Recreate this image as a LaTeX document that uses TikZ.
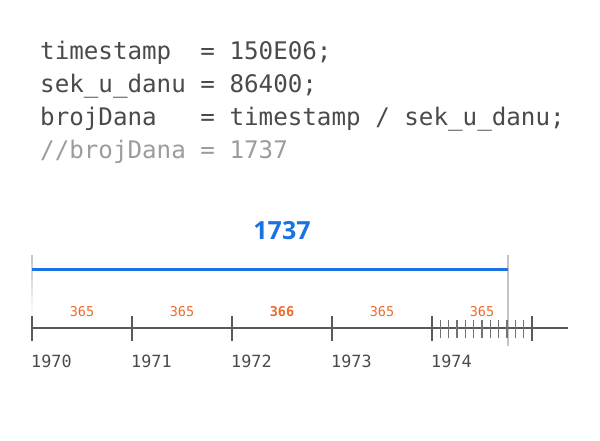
\documentclass[tikz,border=0pt]{standalone}
\usepackage{fontspec}
\setmonofont{DejaVu Sans Mono}
\newfontfamily\boldsans{Open Sans}
\definecolor{codecol}{HTML}{4A4A4A}
\definecolor{commentcol}{HTML}{9C9C9C}
\definecolor{bluecol}{HTML}{1A73E0}
\definecolor{orangecol}{HTML}{EC6A2C}
\definecolor{axiscol}{HTML}{5A5A5A}
\definecolor{guidecol}{HTML}{C4C4C4}
\tikzset{
  codeline/.style={anchor=base west, inner sep=0pt, font=\ttfamily\fontsize{24.2}{28}\selectfont, text=codecol},
  commentline/.style={codeline, text=commentcol},
  totallabel/.style={anchor=base, inner sep=0pt, font=\boldsans\bfseries\fontsize{25}{28}\selectfont, text=bluecol},
  daylabel/.style={anchor=base, inner sep=0pt, font=\ttfamily\fontsize{13.5}{15}\selectfont, text=orangecol},
  leapday/.style={daylabel, font=\ttfamily\bfseries\fontsize{13.5}{15}\selectfont},
  yearlabel/.style={anchor=base west, inner sep=0pt, font=\ttfamily\fontsize{16.8}{18}\selectfont, text=codecol},
  axisline/.style={draw=axiscol, line width=2pt},
  majortick/.style={draw=axiscol, line width=2.5pt},
  minortick/.style={draw=axiscol!85, line width=1.5pt},
  bluespan/.style={draw=bluecol, line width=3pt},
  guideline/.style={draw=guidecol, line width=1.5pt}
}
\begin{document}
\begin{tikzpicture}[x=1pt,y=-1pt]
\useasboundingbox (0,0) rectangle (600,440);
% code
\node[codeline] (l1) at (40,59) {timestamp\ \ = 150E06;};
\node[codeline] (l2) at (40,92) {sek\_u\_danu = 86400;};
\node[codeline] (l3) at (40,125) {brojDana\ \ \ = timestamp / sek\_u\_danu;};
\node[commentline] (l4) at (40,158) {//brojDana = 1737};
% total
\node[totallabel] (total) at (282,239) {1737};
% guides
\shade[top color=guidecol, bottom color=white] (31.2,255) rectangle (32.8,316);
\coordinate (gtop) at (508,255);
\coordinate (gbot) at (508,346);
\draw[guideline] (gtop) -- (gbot);
% blue span
\coordinate (bL) at (32,269);
\coordinate (bR) at (508,269);
\draw[bluespan] (bL) -- (bR);
% axis
\coordinate (axL) at (32,328);
\coordinate (axR) at (568,328);
\draw[axisline] (axL) -- (axR);
\foreach \k in {1,...,11}{
  \draw[minortick] ({432+\k*100/12},320) -- ({432+\k*100/12},338);
}
\foreach \x in {32,132,232,332,432,532}{
  \draw[majortick] (\x,316) -- (\x,341);
}
% day counts
\node[daylabel] (d1) at (82,316) {365};
\node[daylabel] (d2) at (182,316) {365};
\node[leapday] (d3) at (282,316) {366};
\node[daylabel] (d4) at (382,316) {365};
\node[daylabel] (d5) at (482,316) {365};
% years
\node[yearlabel] (y0) at (31,367) {1970};
\node[yearlabel] (y1) at (131,367) {1971};
\node[yearlabel] (y2) at (231,367) {1972};
\node[yearlabel] (y3) at (331,367) {1973};
\node[yearlabel] (y4) at (431,367) {1974};
\end{tikzpicture}
\end{document}
